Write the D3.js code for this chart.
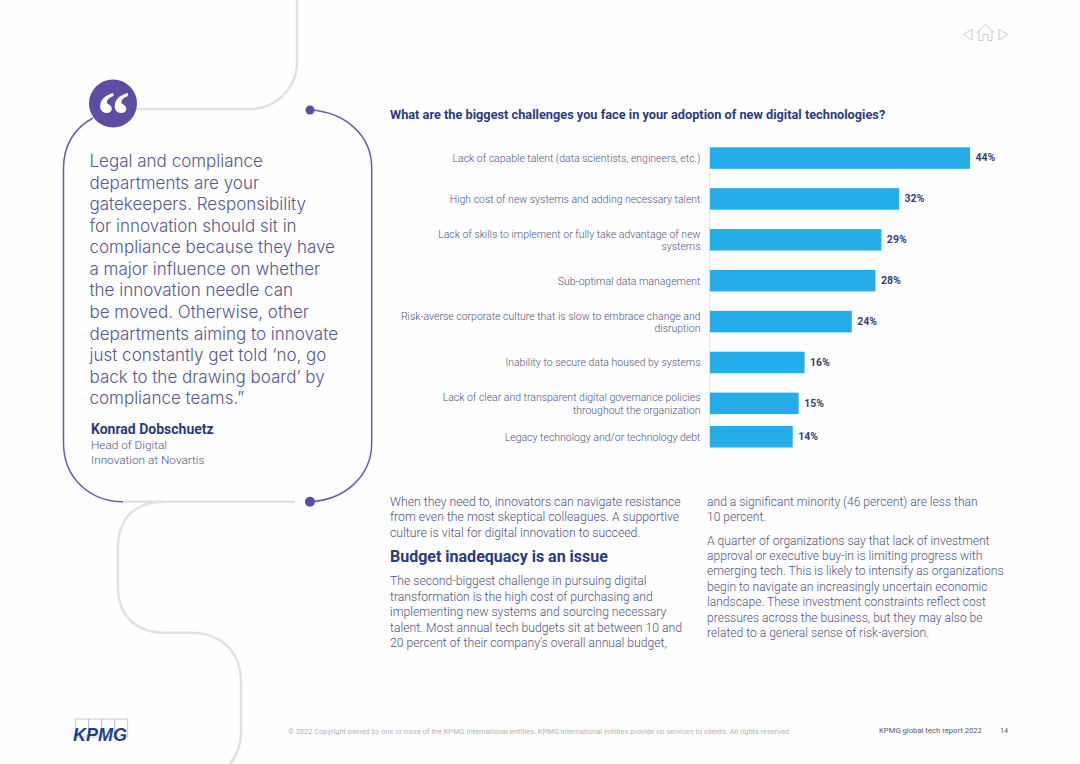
<!DOCTYPE html>
<html lang="en">
<head>
<meta charset="UTF-8">
<title>KPMG global tech report 2022</title>
<script src="https://d3js.org/d3.v7.min.js"></script>
<style>
    html, body { margin: 0; padding: 0; background: #fefefe; }
    svg { display: block; font-family: Roboto, Arial, sans-serif; }
</style>
</head>
<body>
<div id="page"></div>
<script>
// Chart data
const categories = [
    ["Lack of capable talent (data scientists, engineers, etc.)"],
    ["High cost of new systems and adding necessary talent"],
    ["Lack of skills to implement or fully take advantage of new", "systems"],
    ["Sub-optimal data management"],
    ["Risk-averse corporate culture that is slow to embrace change and", "disruption"],
    ["Inability to secure data housed by systems"],
    ["Lack of clear and transparent digital governance policies", "throughout the organization"],
    ["Legacy technology and/or technology debt"]
];
const values = [44, 32, 29, 28, 24, 16, 15, 14];

// Page text
const chartTitle = "What are the biggest challenges you face in your adoption of new digital technologies?";
const quoteLines = [
    "Legal and compliance", "departments are your", "gatekeepers. Responsibility",
    "for innovation should sit in", "compliance because they have", "a major influence on whether",
    "the innovation needle can", "be moved. Otherwise, other", "departments aiming to innovate",
    "just constantly get told \u2018no, go", "back to the drawing board\u2019 by", "compliance teams.\u201d"
];
const quoteName = "Konrad Dobschuetz";
const quoteRole = ["Head of Digital", "Innovation at Novartis"];
const introLines = [
    "When they need to, innovators can navigate resistance",
    "from even the most skeptical colleagues. A supportive",
    "culture is vital for digital innovation to succeed."
];
const heading = "Budget inadequacy is an issue";
const bodyLines = [
    "The second-biggest challenge in pursuing digital",
    "transformation is the high cost of purchasing and",
    "implementing new systems and sourcing necessary",
    "talent. Most annual tech budgets sit at between 10 and",
    "20 percent of their company\u2019s overall annual budget,"
];
const rightTopLines = ["and a significant minority (46 percent) are less than", "10 percent."];
const rightLines = [
    "A quarter of organizations say that lack of investment",
    "approval or executive buy-in is limiting progress with",
    "emerging tech. This is likely to intensify as organizations",
    "begin to navigate an increasingly uncertain economic",
    "landscape. These investment constraints reflect cost",
    "pressures across the business, but they may also be",
    "related to a general sense of risk-aversion."
];
const copyright = "\u00a9 2022 Copyright owned by one or more of the KPMG International entities. KPMG International entities provide no services to clients. All rights reserved.";
const reportName = "KPMG global tech report 2022";
const pageNumber = "14";

const navy = "#2c3b7e", purple = "#5f4da3", outline = "#6a5da3", grey = "#e2e0e5";
const textColor = "#50537f";

const svg = d3.select("#page").append("svg").attr("width", 1080).attr("height", 764);

// Draw a block of lines, dominant-baseline keeps y at the text centre
function lines(list, x, y, step, size, color, opts = {}) {
    svg.append("g").selectAll("text").data(list).join("text")
        .attr("x", x)
        .attr("y", (d, i) => y + i * step)
        .attr("dominant-baseline", "middle")
        .attr("text-anchor", opts.anchor || "start")
        .attr("font-family", opts.font || null)
        .attr("font-weight", opts.weight || 400)
        .attr("font-size", size)
        .attr("letter-spacing", opts.spacing || 0)
        .attr("fill", color)
        .text(d => d);
}

// Background ribbons
const ribbon = svg.append("g").attr("fill", "none").attr("stroke", grey).attr("stroke-width", 2.5);
ribbon.append("path").attr("d", "M297,0 V62 A47,47 0 0 1 250,109 H130");
ribbon.append("path").attr("d", "M123,501.7 H295");
ribbon.append("path").attr("d", "M165,501.7 C135,502 118,518 118,547 V587 C118,616 136,632.7 165,632.7 H190 C222,632.7 241,652 241,683 V733 C241,745 237,755 230,764");

// Quote outline
const frame = svg.append("g").attr("fill", "none").attr("stroke", outline).attr("stroke-width", 1.5);
frame.append("path").attr("d", "M93,118 C74,128 63.5,146 63.5,168 V443 C63.5,478 90,501.7 123,501.7");
frame.append("path").attr("d", "M310,110 C345,112 371.7,135 371.7,168 V443 C371.7,476 345,500 310,501.7");
svg.append("circle").attr("cx", 310).attr("cy", 110).attr("r", 4.5).attr("fill", purple);
svg.append("circle").attr("cx", 310).attr("cy", 501.7).attr("r", 5).attr("fill", purple);
svg.append("circle").attr("cx", 113).attr("cy", 103.5).attr("r", 24).attr("fill", purple);
svg.append("text").attr("x", 113.5).attr("y", 137).attr("text-anchor", "middle")
    .attr("font-family", "'Liberation Serif', serif").attr("font-weight", 700).attr("font-size", 66)
    .attr("fill", "#fff").text("\u201c");

// Quote text
lines(quoteLines, 89.5, 162.5, 21.55, 17, "#56588f", { font: "Inter", weight: 300 });
lines([quoteName], 91, 430, 0, 14, navy, { weight: 700 });
lines(quoteRole, 91, 445.8, 15.5, 11.8, textColor, { weight: 300 });

// Bar chart
const x = d3.scaleLinear().domain([0, 44]).range([710, 970]);
const y = d3.scaleBand().domain(d3.range(values.length)).range([147.3, 455]).paddingInner(0.474).paddingOuter(0);
// the last row sits closer to the one above it
const rowY = i => y(i) - (i === values.length - 1 ? 7.5 : 0);

lines([chartTitle], 390, 115.5, 0, 12.75, navy, { weight: 700 });

svg.append("line").attr("x1", 709.5).attr("x2", 709.5).attr("y1", 147).attr("y2", 448)
    .attr("stroke", "#e4e6ee");

const rows = svg.append("g").selectAll("g").data(values).join("g");
rows.append("rect")
    .attr("x", x(0))
    .attr("y", (d, i) => rowY(i))
    .attr("width", d => x(d) - x(0))
    .attr("height", y.bandwidth())
    .attr("fill", "#24ade9");
rows.append("text")
    .attr("x", d => x(d) + 5.5)
    .attr("y", (d, i) => rowY(i) + y.bandwidth() / 2 + 0.5)
    .attr("dominant-baseline", "middle")
    .attr("font-weight", 700)
    .attr("font-size", 10.5)
    .attr("fill", "#3a3f78")
    .text(d => d + "%");

categories.forEach((label, i) => {
    const mid = rowY(i) + y.bandwidth() / 2 + (label.length > 1 ? -4.7 : 1.2);
    lines(label, 700.5, mid, 12.4, 10.5, textColor, { anchor: "end", weight: 300 });
});

// Body columns
lines(introLines, 390, 502.5, 15.6, 12.25, textColor, { weight: 300 });
lines([heading], 390, 557.5, 0, 16, navy, { weight: 700 });
lines(bodyLines, 390, 581.8, 15.6, 12.2, textColor, { weight: 300 });
lines(rightTopLines, 707, 502.5, 15.6, 12.1, textColor, { weight: 300 });
lines(rightLines, 707, 541.3, 15.4, 12.1, textColor, { weight: 300 });

// Footer
lines([copyright], 288, 732, 0, 7.43, "#b4b4ba");
lines([reportName], 879, 731, 0, 7.7, "#55586a");
lines([pageNumber], 1000, 731, 0, 7.2, "#55586a");

// KPMG logo
const logo = svg.append("g");
logo.selectAll("rect").data(d3.range(4)).join("rect")
    .attr("x", d => 75.7 + d * 13)
    .attr("y", 719)
    .attr("width", 13)
    .attr("height", 18)
    .attr("fill", "none")
    .attr("stroke", "#b9bdd0")
    .attr("stroke-width", 0.8);
logo.append("text").attr("x", 73).attr("y", 741)
    .attr("font-family", "'Liberation Sans', Arial, sans-serif")
    .attr("font-style", "italic").attr("font-weight", 700).attr("font-size", 18)
    .attr("fill", "#1e3f94").text("KPMG");

// Navigation icons
const nav = svg.append("g").attr("fill", "none").attr("stroke", "#c9c9cd").attr("stroke-width", 1);
nav.append("path").attr("d", "M972,29 L963.5,34.5 L972,40 Z");
nav.append("path").attr("d", "M999,29 L1007.5,34.5 L999,40 Z");
nav.append("path").attr("d", "M976.5,33 L985.5,24.5 L994.5,33 M979,31 V40.5 H983 V34.5 H988 V40.5 H992 V31");
</script>
</body>
</html>
